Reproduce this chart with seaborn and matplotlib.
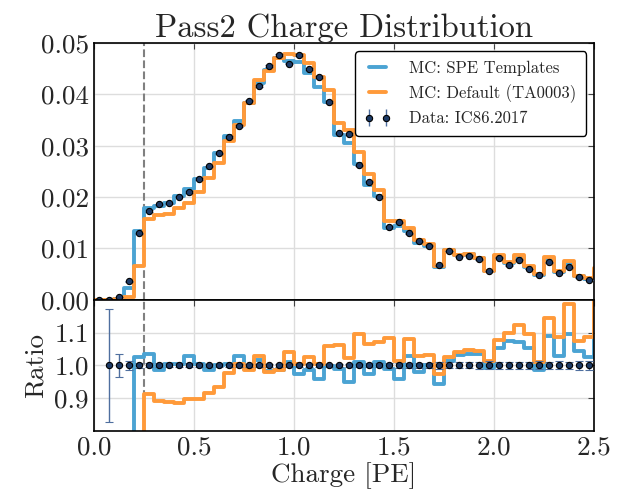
import numpy as np
import pandas as pd
import matplotlib
matplotlib.use("Agg")
import matplotlib.pyplot as plt
from matplotlib.lines import Line2D
from matplotlib.ticker import FormatStrFormatter
import seaborn as sns

# bins: 0.05 PE wide, one extra bin past the plotted range
bin_width = 0.05
bin_range = (0.0, 2.55)
centers = np.round(np.arange(0.025, 2.55, 0.05), 3)

# data: normalised charge distribution, IC86.2017
data = [0.0, 0.00003, 0.0006, 0.0036, 0.0130, 0.0173, 0.0186, 0.0188, 0.0201, 0.0210,
        0.0235, 0.0260, 0.0285, 0.0317, 0.0339, 0.0388, 0.0416, 0.0455, 0.0477, 0.0460,
        0.0476, 0.0449, 0.0433, 0.0385, 0.0324, 0.0323, 0.0262, 0.0230, 0.0200, 0.0142,
        0.0151, 0.0130, 0.0114, 0.0105, 0.0067, 0.0095, 0.0084, 0.0086, 0.0079, 0.0056,
        0.0082, 0.0067, 0.0078, 0.0060, 0.0049, 0.0073, 0.0052, 0.0063, 0.0044, 0.0039,
        0.0050]
# relative stat. error of the data
data_relerr = [np.nan, 0.173, 0.035, 0.0145, 0.0077, 0.0067, 0.0065, 0.0064, 0.0062, 0.0060,
               0.0057, 0.0054, 0.0052, 0.0049, 0.0048, 0.0045, 0.0043, 0.0041, 0.0040, 0.0041,
               0.0040, 0.0041, 0.0042, 0.0045, 0.0049, 0.0049, 0.0054, 0.0058, 0.0062, 0.0073,
               0.0071, 0.0077, 0.0082, 0.0085, 0.0107, 0.0090, 0.0096, 0.0095, 0.0099, 0.0118,
               0.0098, 0.0107, 0.0099, 0.0113, 0.0125, 0.0103, 0.0122, 0.0111, 0.0133, 0.0141,
               0.0131]
# MC / data ratios
ratio_spe = [0.0, 0.0, 0.3, 0.64, 1.026, 1.036, 0.987, 1.005, 1.005, 1.028,
             1.005, 0.987, 1.0, 1.005, 1.028, 0.99, 1.015, 0.982, 0.985, 1.01,
             0.974, 0.985, 0.957, 0.998, 0.99, 0.948, 1.01, 0.974, 1.01, 0.99,
             0.957, 1.028, 0.979, 1.0, 0.943, 1.013, 1.031, 1.034, 1.035, 0.993,
             1.052, 1.074, 1.07, 1.052, 0.987, 1.09, 1.028, 1.097, 1.045, 1.025,
             1.08]
ratio_default = [0.0, 0.0, 0.2, 0.14, 0.5, 0.912, 0.892, 0.889, 0.885, 0.897,
                 0.897, 0.914, 0.935, 0.977, 1.005, 0.987, 1.028, 0.981, 0.985, 1.04,
                 1.003, 1.026, 1.003, 1.06, 1.062, 1.022, 1.096, 1.064, 1.072, 1.082,
                 1.013, 1.08, 1.028, 1.031, 0.974, 1.026, 1.041, 1.048, 1.043, 1.012,
                 1.076, 1.10, 1.122, 1.097, 1.01, 1.145, 1.085, 1.187, 1.074, 1.087,
                 1.25]

df = pd.DataFrame({"charge": centers, "data": data, "relerr": data_relerr,
                   "r_spe": ratio_spe, "r_def": ratio_default})
df["mc_spe"] = df["data"] * df["r_spe"]
df["mc_def"] = df["data"] * df["r_def"]

c_spe = "#4ba3d3"
c_def = "#ff9a3a"
c_pt = "#1c3a66"
c_err = "#4f6f9f"

sns.set_style("white")
plt.rcParams["font.family"] = "serif"
plt.rcParams["font.serif"] = ["cmr10", "DejaVu Serif"]
plt.rcParams["mathtext.fontset"] = "cm"
plt.rcParams["axes.formatter.use_mathtext"] = True

fig = plt.figure(figsize=(6.17, 4.94), dpi=100)
gs = fig.add_gridspec(2, 1, height_ratios=[257, 131], hspace=0,
                      left=0.152, right=0.963, top=0.913, bottom=0.128)
ax = fig.add_subplot(gs[0])
axr = fig.add_subplot(gs[1], sharex=ax)

lw = 2.8
hist_kw = dict(x="charge", binwidth=bin_width, binrange=bin_range,
               element="step", fill=False, linewidth=lw)
sns.histplot(data=df, weights=df["mc_spe"], color=c_spe, ax=ax, **hist_kw)
sns.histplot(data=df, weights=df["mc_def"], color=c_def, ax=ax, **hist_kw)
ax.errorbar(df["charge"], df["data"], yerr=df["data"] * df["relerr"].fillna(0),
            fmt="o", ms=4.5, mfc=c_pt, mec="black", mew=0.8, ecolor=c_err,
            elinewidth=1, capsize=3, zorder=5)

sns.histplot(data=df, weights=df["r_spe"], color=c_spe, ax=axr, **hist_kw)
sns.histplot(data=df, weights=df["r_def"], color=c_def, ax=axr, **hist_kw)
ones = np.where(df["data"] > 0, 1.0, np.nan)
axr.errorbar(df["charge"], ones, yerr=df["relerr"], fmt="o", ms=4.5, mfc=c_pt,
             mec="black", mew=0.8, ecolor=c_err, elinewidth=1, capsize=3, zorder=5)

for a in (ax, axr):
    a.axvline(0.25, color="gray", ls="--", lw=1.5, zorder=1)
    a.grid(True, color="#dddddd", lw=1)
    a.set_axisbelow(True)
    a.tick_params(direction="in", top=True, right=True, labelsize=19.5,
                  length=4, color="#444444")
    for s in a.spines.values():
        s.set_linewidth(1.2)
        s.set_color("black")

ax.set_xlim(0, 2.5)
ax.set_ylim(0, 0.05)
ax.set_yticks([0.0, 0.01, 0.02, 0.03, 0.04, 0.05])
ax.yaxis.set_major_formatter(FormatStrFormatter("%.2f"))
ax.tick_params(labelbottom=False)
ax.set_xlabel("")
ax.set_ylabel("")
ax.set_title("Pass2 Charge Distribution", fontsize=23.5, pad=4)

axr.set_ylim(0.8, 1.2)
axr.set_yticks([0.9, 1.0, 1.1])
axr.yaxis.set_major_formatter(FormatStrFormatter("%.1f"))
axr.set_xticks([0.0, 0.5, 1.0, 1.5, 2.0, 2.5])
axr.xaxis.set_major_formatter(FormatStrFormatter("%.1f"))
axr.set_xlabel("Charge [PE]", fontsize=19.5, labelpad=2)
axr.set_ylabel("Ratio", fontsize=19.5, labelpad=5)

handles = [Line2D([], [], color=c_spe, lw=lw),
           Line2D([], [], color=c_def, lw=lw),
           ax.errorbar([], [], yerr=[], fmt="o", ms=4.5, mfc=c_pt, mec="black",
                       mew=0.8, ecolor=c_err, elinewidth=1, capsize=3)]
labels = ["MC: SPE Templates", "MC: Default (TA0003)", "Data: IC86.2017"]
leg = ax.legend(handles, labels, loc="upper right", fontsize=12, numpoints=2,
                frameon=True, fancybox=True, framealpha=1, edgecolor="black",
                borderpad=0.55, handlelength=1.6, handletextpad=1.1)
leg.get_frame().set_linewidth(1.0)

fig.savefig("out.png", dpi=100)
